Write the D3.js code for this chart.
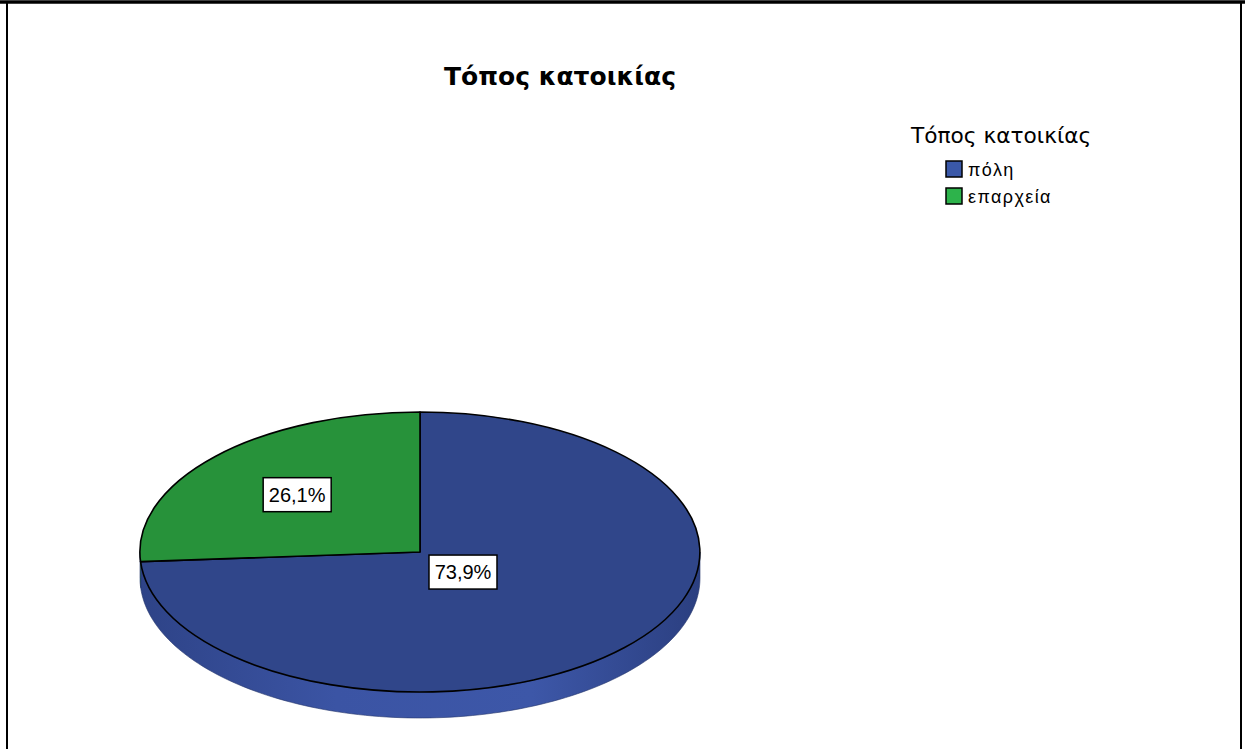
<!DOCTYPE html>
<html>
<head>
<meta charset="utf-8">
<script src="https://cdn.jsdelivr.net/npm/d3@7"></script>
<style>
  html, body { margin: 0; padding: 0; background: #fff; }
  svg { display: block; }
</style>
</head>
<body>
<svg id="chart" width="1245" height="749"></svg>
<script>
// Place of residence, share of respondents
const categories = ["πόλη", "επαρχεία"];
const percents = [73.9, 26.1];
const chartTitle = "Τόπος κατοικίας";
const legendTitle = "Τόπος κατοικίας";

const topColors = ["#30468a", "#27923a"];
const legendColors = ["#3a58a8", "#2db34b"];

const svg = d3.select("#chart");
const W = 1245, H = 749;

// frame
svg.append("rect").attr("x", 0).attr("y", 0).attr("width", W).attr("height", H).attr("fill", "#fff");
svg.append("line").attr("x1", 0).attr("x2", W).attr("y1", 2).attr("y2", 2)
  .attr("stroke", "#000").attr("stroke-width", 3.5);
svg.append("line").attr("x1", 7).attr("x2", 7).attr("y1", 2).attr("y2", H)
  .attr("stroke", "#000").attr("stroke-width", 2);
svg.append("line").attr("x1", 1241).attr("x2", 1241).attr("y1", 2).attr("y2", H)
  .attr("stroke", "#000").attr("stroke-width", 2);

// title
svg.append("text").attr("x", 560).attr("y", 85).attr("text-anchor", "middle")
  .attr("font-family", "'DejaVu Sans', Verdana, sans-serif").attr("font-weight", "bold")
  .attr("font-size", 25).attr("fill", "#000").text(chartTitle);

// pie geometry
const cx = 420, cy = 552, rx = 280, ry = 140, depth = 26;
const pie = d3.pie().sort(null).value(d => d.v).startAngle(0).endAngle(2 * Math.PI);
const data = categories.map((c, i) => ({ c, v: percents[i], i }));
const arcs = pie(data);

const px = a => cx + rx * Math.sin(a);
const py = a => cy - ry * Math.cos(a);

// side gradient
const defs = svg.append("defs");
const sideGrads = [
  ["#2e4387", "#3b54a4", "#3d57a8", "#2b3f80"],
  ["#1f7a30", "#27923a", "#27923a", "#1f7a30"]
];
sideGrads.forEach((stops, i) => {
  const g = defs.append("linearGradient").attr("id", "side" + i)
    .attr("gradientUnits", "userSpaceOnUse")
    .attr("x1", cx - rx).attr("x2", cx + rx).attr("y1", 0).attr("y2", 0);
  [0, 0.35, 0.7, 1].forEach((o, k) => g.append("stop").attr("offset", o).attr("stop-color", stops[k]));
});

// visible front wall of each slice (angles between 90° and 270°)
const sides = svg.append("g");
arcs.forEach(a => {
  const a0 = Math.max(a.startAngle, Math.PI / 2);
  const a1 = Math.min(a.endAngle, 3 * Math.PI / 2);
  if (a1 <= a0) return;
  const n = 120;
  const angles = d3.range(n + 1).map(k => a0 + (a1 - a0) * k / n);
  const topPts = angles.map(t => [px(t), py(t)]);
  const botPts = angles.slice().reverse().map(t => [px(t), py(t) + depth]);
  const path = d3.line()(topPts.concat(botPts)) + "Z";
  sides.append("path").attr("d", path)
    .attr("fill", `url(#side${a.data.i})`)
    .attr("stroke", "#24346a").attr("stroke-width", 0.6);
});

// top faces
const arcGen = d3.arc().innerRadius(0).outerRadius(1);
const tops = svg.append("g").attr("transform", `translate(${cx},${cy}) scale(${rx},${ry})`);
arcs.forEach(a => {
  tops.append("path").attr("d", arcGen(a))
    .attr("fill", topColors[a.data.i])
    .attr("stroke", "#000").attr("stroke-width", 1.6)
    .attr("vector-effect", "non-scaling-stroke")
    .attr("stroke-linejoin", "round");
});

// percentage labels
const labelRadii = [0.21, 0.6];
const fmt = v => d3.format(".1f")(v).replace(".", ",") + "%";
arcs.forEach(a => {
  const mid = (a.startAngle + a.endAngle) / 2;
  const r = labelRadii[a.data.i];
  const lx = cx + rx * r * Math.sin(mid);
  const ly = cy - ry * r * Math.cos(mid);
  const g = svg.append("g").attr("transform", `translate(${lx},${ly})`);
  g.append("rect").attr("x", -34).attr("y", -17).attr("width", 68).attr("height", 34)
    .attr("fill", "#fff").attr("stroke", "#000").attr("stroke-width", 1.5);
  g.append("text").attr("x", 0).attr("y", 7).attr("text-anchor", "middle")
    .attr("font-family", "Arial, 'Liberation Sans', sans-serif").attr("font-size", 20)
    .attr("fill", "#000").text(fmt(a.data.v));
});

// legend
const lg = svg.append("g");
lg.append("text").attr("x", 911).attr("y", 143)
  .attr("font-family", "'DejaVu Sans', Verdana, sans-serif").attr("font-size", 21.7)
  .attr("fill", "#000").text(legendTitle);
categories.forEach((c, i) => {
  const y = 161 + i * 27;
  lg.append("rect").attr("x", 946).attr("y", y).attr("width", 16).attr("height", 16)
    .attr("fill", legendColors[i]).attr("stroke", "#000").attr("stroke-width", 1.5);
  lg.append("text").attr("x", 968).attr("y", y + 15)
    .attr("font-family", "Arial, 'Liberation Sans', sans-serif").attr("font-size", 18)
    .attr("letter-spacing", 1.4)
    .attr("fill", "#000").text(c);
});
</script>
</body>
</html>
